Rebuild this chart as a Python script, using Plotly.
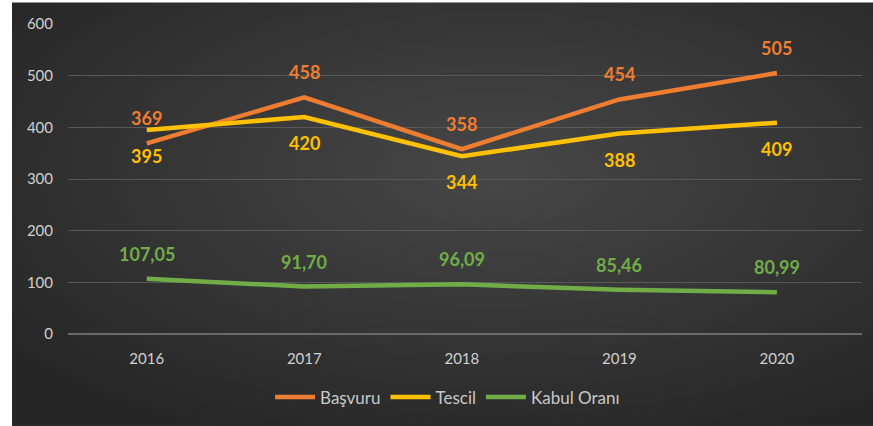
import base64
import plotly.graph_objects as go

years = ["2016", "2017", "2018", "2019", "2020"]
basvuru = [369, 458, 358, 454, 505]
tescil = [395, 420, 344, 388, 409]
kabul = [107.05, 91.70, 96.09, 85.46, 80.99]
kabul_labels = ["107,05", "91,70", "96,09", "85,46", "80,99"]
y_ticks = [0, 100, 200, 300, 400, 500, 600]

C_OR = "#ED7D31"
C_YE = "#FFC000"
C_GR = "#70AD47"

W, H = 873, 426
L, R, T, B = 68, 11, 24, 84
pw, ph = W - L - R, H - T - B

svg = """<svg xmlns='http://www.w3.org/2000/svg' width='861' height='424' viewBox='0 0 861 424' preserveAspectRatio='none'>
<defs><radialGradient id='g' cx='55%' cy='40%' r='70%'>
<stop offset='0%' stop-color='#474747'/><stop offset='100%' stop-color='#262626'/></radialGradient></defs>
<rect width='861' height='424' fill='url(#g)'/></svg>"""
src = "data:image/svg+xml;base64," + base64.b64encode(svg.encode()).decode()

fig = go.Figure()
fig.add_trace(go.Scatter(x=years, y=basvuru, name="Başvuru", mode="lines",
                         line=dict(color=C_OR, width=4.5)))
fig.add_trace(go.Scatter(x=years, y=tescil, name="Tescil", mode="lines",
                         line=dict(color=C_YE, width=4.5)))
fig.add_trace(go.Scatter(x=years, y=kabul, name="Kabul Oranı", mode="lines",
                         line=dict(color=C_GR, width=4.5)))

lab_font = dict(family="Lato, sans-serif", size=18, weight="bold")
for i, v in enumerate(basvuru):
    fig.add_annotation(x=i, y=v, text=str(v), showarrow=False, yshift=25,
                       font=dict(color=C_OR, **lab_font))
for i, v in enumerate(tescil):
    fig.add_annotation(x=i, y=v, text=str(v), showarrow=False, yshift=-26,
                       font=dict(color=C_YE, **lab_font))
for i, (v, t) in enumerate(zip(kabul, kabul_labels)):
    fig.add_annotation(x=i, y=v, text=t, showarrow=False, yshift=25,
                       font=dict(color=C_GR, **lab_font))

x0 = (12 - L) / pw
x1 = (W - L) / pw
y0 = (T + ph - 2) / ph
y1 = (T + ph - H) / ph
fig.add_layout_image(dict(source=src, xref="paper", yref="paper", x=x0, y=y0,
                          sizex=x1 - x0 + 0.02, sizey=y0 - y1 + 0.03, xanchor="left",
                          yanchor="top", sizing="stretch", layer="below"))
# white strips at left and top edges
fig.add_shape(type="rect", xref="paper", yref="paper", x0=-1, x1=x0, y0=-1, y1=2,
              fillcolor="white", line_width=0, layer="below")
fig.add_shape(type="rect", xref="paper", yref="paper", x0=-1, x1=2, y0=y0, y1=2,
              fillcolor="white", line_width=0, layer="below")

fig.update_layout(
    width=W, height=H,
    margin=dict(l=L, r=R, t=T, b=B),
    paper_bgcolor="#2a2a2a",
    plot_bgcolor="rgba(0,0,0,0)",
    font=dict(family="Lato, sans-serif", color="#d0d0d0", size=15),
    showlegend=True,
    legend=dict(orientation="h", x=0.478, xanchor="center", y=-0.205, yanchor="middle",
                font=dict(size=17, color="#c8c8c8"), bgcolor="rgba(0,0,0,0)",
                itemwidth=40, tracegroupgap=0),
    xaxis=dict(type="category", range=[-0.5, len(years) - 0.46], showgrid=False,
               zeroline=False, showline=False, ticks="", ticklabelstandoff=14,
               tickfont=dict(size=15, color="#d0d0d0")),
    yaxis=dict(range=[0, 600], tickvals=y_ticks, showgrid=True, gridcolor="#585858",
               gridwidth=1, zeroline=True, zerolinecolor="#6a6a6a", zerolinewidth=1.5,
               showline=False, ticks="", ticklabelstandoff=14,
               tickfont=dict(size=15, color="#d0d0d0")),
)

fig.write_html("out.html", config={"displayModeBar": False},
               post_script="document.body.style.margin='0';")
